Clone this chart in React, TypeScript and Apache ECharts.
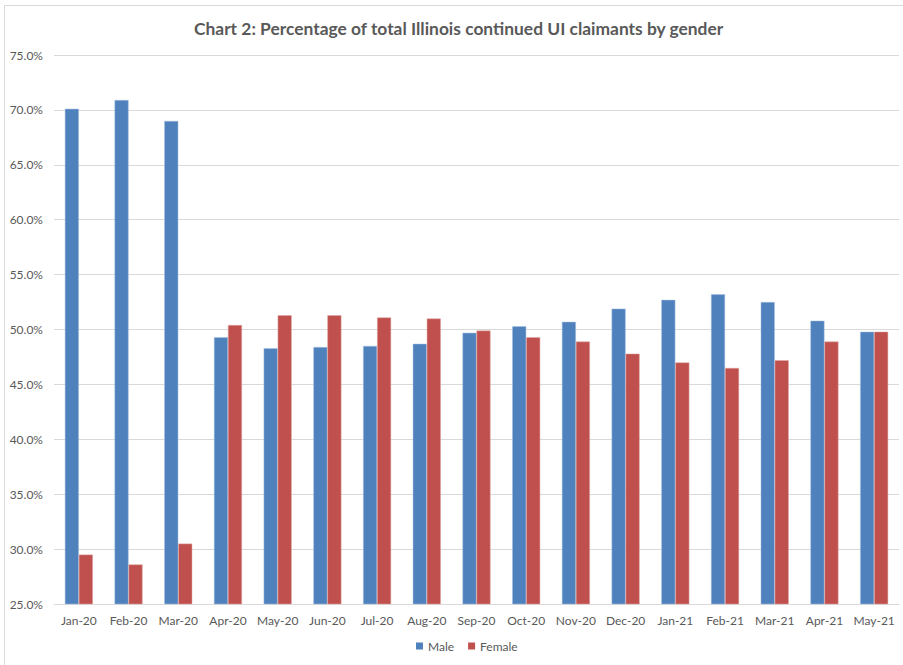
import React, { useEffect, useRef } from "react";
import * as echarts from "echarts";

const categories = ["Jan-20", "Feb-20", "Mar-20", "Apr-20", "May-20", "Jun-20", "Jul-20", "Aug-20", "Sep-20", "Oct-20", "Nov-20", "Dec-20", "Jan-21", "Feb-21", "Mar-21", "Apr-21", "May-21"];
const maleValues = [70.1, 70.9, 69.0, 49.3, 48.3, 48.4, 48.5, 48.7, 49.7, 50.3, 50.7, 51.9, 52.7, 53.2, 52.5, 50.8, 49.8];
const femaleValues = [29.5, 28.6, 30.5, 50.4, 51.3, 51.3, 51.1, 51.0, 49.9, 49.3, 48.9, 47.8, 47.0, 46.5, 47.2, 48.9, 49.8];
const titleText = "Chart 2: Percentage of total Illinois continued UI claimants by gender";

const FONT = "Lato, 'Open Sans', sans-serif";

export default function App() {
  const ref = useRef<HTMLDivElement>(null);
  useEffect(() => {
    if (!ref.current) return;
    const chart = echarts.init(ref.current, null, { renderer: "svg" });
    chart.setOption({
      animation: false,
      backgroundColor: "#ffffff",
      textStyle: { fontFamily: FONT },
      title: {
        text: titleText,
        left: 189,
        top: 15,
        textStyle: { fontFamily: FONT, fontSize: 17.4, fontWeight: "bold", color: "#595959" },
      },
      graphic: [
        {
          type: "rect",
          shape: { x: 4.5, y: 5.5, width: 920, height: 680 },
          style: { fill: "none", stroke: "#d9d9d9", lineWidth: 1 },
          silent: true,
        },
      ],
      legend: {
        bottom: 8,
        left: 411,
        itemWidth: 7,
        itemHeight: 7,
        itemGap: 14,
        icon: "rect",
        itemStyle: { borderWidth: 0 },
        textStyle: { fontFamily: FONT, fontSize: 12, color: "#595959" },
        data: ["Male", "Female"],
      },
      grid: { left: 54, right: 4, top: 55, bottom: 61, containLabel: false },
      xAxis: {
        type: "category",
        data: categories,
        axisLine: { lineStyle: { color: "#d9d9d9" } },
        axisTick: { show: false },
        axisLabel: { fontFamily: FONT, fontSize: 12, color: "#595959", margin: 10, interval: 0 },
      },
      yAxis: {
        type: "value",
        min: 25,
        max: 75,
        interval: 5,
        axisLine: { show: false },
        axisTick: { show: false },
        splitLine: { lineStyle: { color: "#d9d9d9" } },
        axisLabel: {
          fontFamily: FONT,
          fontSize: 12,
          color: "#595959",
          margin: 11,
          formatter: (v: number) => v.toFixed(1) + "%",
        },
      },
      series: [
        {
          name: "Male",
          type: "bar",
          data: maleValues,
          barWidth: 14,
          barGap: "0%",
          itemStyle: { color: "#4F81BD", borderColor: "#A7C0DE", borderWidth: 0.5 },
        },
        {
          name: "Female",
          type: "bar",
          data: femaleValues,
          barWidth: 14,
          barGap: "0%",
          itemStyle: { color: "#C0504D", borderColor: "#DFA8A6", borderWidth: 0.5 },
        },
      ],
    });
    return () => chart.dispose();
  }, []);
  return <div ref={ref} style={{ position: "absolute", left: 0, top: 0, width: 903, height: 665 }} />;
}
